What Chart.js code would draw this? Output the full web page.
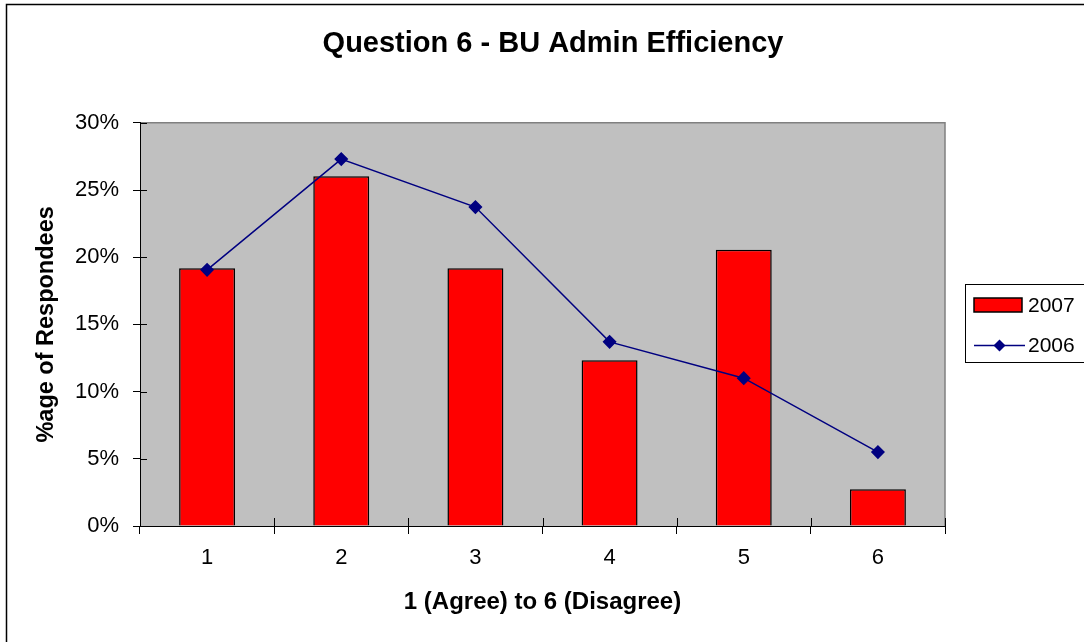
<!DOCTYPE html>
<html>
<head>
<meta charset="utf-8">
<script src="https://cdn.jsdelivr.net/npm/chart.js"></script>
<style>
  html, body { margin: 0; padding: 0; background: #ffffff; }
  canvas { display: block; }
</style>
</head>
<body>
<canvas id="c" width="1084" height="642"></canvas>
<script>
// ---- data ----
const categories = ['1', '2', '3', '4', '5', '6'];
const values2007 = [19.18, 26.03, 19.18, 12.33, 20.55, 2.74];
const values2006 = [19.06, 27.3, 23.73, 13.7, 11.0, 5.5];
const seriesLabels = ['2007', '2006'];
const chartTitle = 'Question 6 - BU Admin Efficiency';
const xTitle = '1 (Agree) to 6 (Disagree)';
const yTitle = '%age of Respondees';
const yMin = 0, yMax = 30, yStep = 5;

Chart.defaults.font.family = "'Liberation Sans', Arial, sans-serif";
Chart.defaults.color = '#000000';

const frameAndBg = {
  id: 'frameAndBg',
  beforeDraw(chart) {
    const ctx = chart.ctx, a = chart.chartArea;
    ctx.save();
    ctx.fillStyle = '#ffffff';
    ctx.fillRect(0, 0, chart.width, chart.height);
    ctx.strokeStyle = '#000000';
    ctx.lineWidth = 1.5;
    ctx.strokeRect(6.5, 4.5, 1200, 1200);
    ctx.fillStyle = '#C0C0C0';
    ctx.fillRect(a.left, a.top, a.right - a.left, a.bottom - a.top);
    ctx.strokeStyle = '#808080';
    ctx.lineWidth = 1.5;
    ctx.beginPath();
    ctx.moveTo(a.left, a.top);
    ctx.lineTo(a.right, a.top);
    ctx.lineTo(a.right, a.bottom);
    ctx.stroke();
    ctx.restore();
  },
  afterDraw(chart) {
    const ctx = chart.ctx, a = chart.chartArea;
    ctx.save();
    ctx.strokeStyle = '#000000';
    ctx.lineWidth = 1;
    // inner halves of the crossing tick marks
    const ys = chart.scales.y;
    ys.ticks.forEach((t, i) => {
      const py = Math.round(ys.getPixelForTick(i)) + 0.5;
      ctx.beginPath(); ctx.moveTo(a.left, py); ctx.lineTo(a.left + 7, py); ctx.stroke();
    });
    const n = categories.length;
    for (let i = 0; i <= n; i++) {
      const px = Math.round(a.left + (a.right - a.left) * i / n) + 0.5;
      ctx.beginPath(); ctx.moveTo(px, a.bottom); ctx.lineTo(px, a.bottom - 8); ctx.stroke();
    }
    // legend
    const lx = 965, ly = 284, lw = 130, lh = 78;
    ctx.fillStyle = '#ffffff';
    ctx.fillRect(lx, ly, lw, lh);
    ctx.strokeStyle = '#000000';
    ctx.lineWidth = 1;
    ctx.strokeRect(lx + 0.5, ly + 0.5, lw, lh);
    const ds = chart.data.datasets;
    ctx.font = "21px 'Liberation Sans', Arial, sans-serif";
    ctx.textBaseline = 'middle';
    ctx.textAlign = 'left';
    // bar entry
    const bar = ds.find(d => d.type === 'bar');
    ctx.fillStyle = bar.backgroundColor;
    ctx.fillRect(974, 298, 48, 14);
    ctx.strokeStyle = '#000000';
    ctx.lineWidth = 1.5;
    ctx.strokeRect(974, 298, 48, 14);
    ctx.fillStyle = '#000000';
    ctx.fillText(bar.label, 1028, 306);
    // line entry
    const line = ds.find(d => d.type === 'line');
    ctx.strokeStyle = line.borderColor;
    ctx.lineWidth = 1.5;
    ctx.beginPath(); ctx.moveTo(974, 345.5); ctx.lineTo(1025, 345.5); ctx.stroke();
    ctx.fillStyle = line.pointBackgroundColor;
    ctx.beginPath();
    ctx.moveTo(999.5, 339.5); ctx.lineTo(1005.5, 345.5); ctx.lineTo(999.5, 351.5); ctx.lineTo(993.5, 345.5);
    ctx.closePath(); ctx.fill();
    ctx.fillStyle = '#000000';
    ctx.fillText(line.label, 1028, 346);
    ctx.restore();
  }
};

new Chart(document.getElementById('c'), {
  data: {
    labels: categories,
    datasets: [
      {
        type: 'bar',
        label: seriesLabels[0],
        data: values2007,
        backgroundColor: '#FF0000',
        borderColor: '#000000',
        borderWidth: 1.5,
        barPercentage: 0.417,
        categoryPercentage: 1.0,
        yAxisID: 'y',
        order: 1
      },
      {
        type: 'line',
        label: seriesLabels[1],
        data: values2006,
        borderColor: '#000080',
        backgroundColor: '#000080',
        borderWidth: 1.5,
        pointStyle: 'rectRot',
        pointRadius: 6,
        pointBackgroundColor: '#000080',
        pointBorderColor: '#000080',
        tension: 0,
        yAxisID: 'y',
        order: 0
      }
    ]
  },
  options: {
    responsive: false,
    animation: false,
    layout: { padding: { left: 22, right: 0, top: 0, bottom: 0 } },
    plugins: {
      legend: { display: false },
      tooltip: { enabled: false },
      title: {
        display: true,
        text: chartTitle,
        font: { size: 29, weight: 'bold' },
        color: '#000000',
        padding: { top: 27, bottom: 61 }
      }
    },
    scales: {
      x: {
        type: 'category',
        offset: true,
        grid: { display: true, drawOnChartArea: false, drawTicks: true, tickLength: 8, color: '#000000', offset: true },
        border: { display: true, color: '#000000', width: 1 },
        ticks: { font: { size: 22 }, color: '#000000', padding: 11, maxRotation: 0 },
        title: { display: true, text: xTitle, font: { size: 24, weight: 'bold' }, color: '#000000', padding: { top: 0, bottom: 25 } },
        afterFit(s) { s.height = 116; }
      },
      y: {
        type: 'linear',
        position: 'left',
        min: yMin,
        max: yMax,
        grid: { display: true, drawOnChartArea: false, drawTicks: true, tickLength: 7, color: '#000000' },
        border: { display: true, color: '#000000', width: 1 },
        ticks: { stepSize: yStep, font: { size: 22 }, color: '#000000', padding: 14, callback: v => v + '%' },
        title: { display: true, text: yTitle, font: { size: 23.5, weight: 'bold' }, color: '#000000', padding: { top: 10, bottom: 0 } },
        afterFit(s) { s.width = 118; }
      },
      yR: {
        type: 'linear',
        position: 'right',
        display: true,
        grid: { display: false },
        border: { display: false },
        ticks: { display: false },
        afterFit(s) { s.width = 139; }
      }
    }
  },
  plugins: [frameAndBg]
});
</script>
</body>
</html>
